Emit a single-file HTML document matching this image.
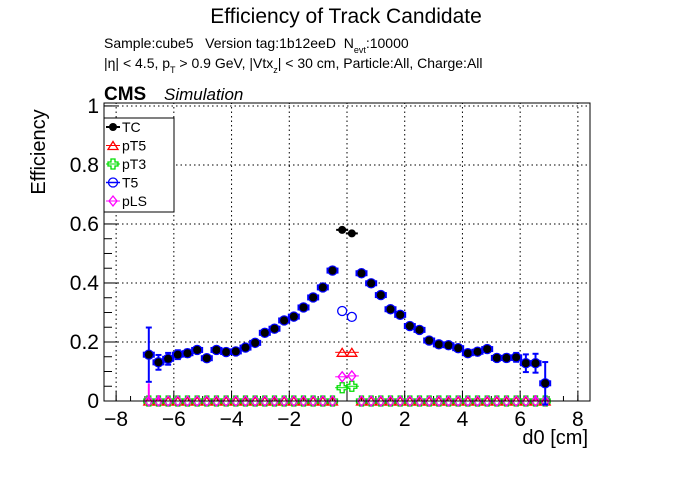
<!DOCTYPE html>
<html><head><meta charset="utf-8"><style>
body{margin:0;background:#fff;width:696px;height:472px;overflow:hidden}
svg text{font-family:"Liberation Sans",sans-serif;white-space:pre}
</style></head><body>
<svg id="chart" width="696" height="472" xmlns="http://www.w3.org/2000/svg">
<text x="346" y="23" font-size="21" text-anchor="middle">Efficiency of Track Candidate</text>
<text x="104" y="48" font-size="14" xml:space="preserve">Sample:cube5   Version tag:1b12eeD  N<tspan font-size="9" dy="5">evt</tspan><tspan dy="-5">:10000</tspan></text>
<text x="104" y="68" font-size="14">|η| &lt; 4.5, p<tspan font-size="9" dy="5">T</tspan><tspan dy="-5"> &gt; 0.9 GeV, |Vtx</tspan><tspan font-size="9" dy="5">z</tspan><tspan dy="-5">| &lt; 30 cm, Particle:All, Charge:All</tspan></text>
<text x="104" y="100" font-size="19" font-weight="bold">CMS</text>
<text x="164" y="100" font-size="17" font-style="italic">Simulation</text>
<text transform="translate(45,152) rotate(-90)" font-size="20" text-anchor="middle">Efficiency</text>
<text x="588" y="444" font-size="20" text-anchor="end">d0 [cm]</text>
<g id="grid"></g><g id="axes"></g><g id="marks"></g>
<rect x="104" y="103" width="486" height="298" fill="none" stroke="#000" stroke-width="1"/>
<g id="legend"></g>
</svg>
<script>
const tcValues=[0.157,0.131,0.143,0.157,0.162,0.173,0.145,0.173,0.166,0.168,0.181,0.197,0.231,0.245,0.273,0.286,0.317,0.351,0.385,0.442,0.580,0.568,0.433,0.399,0.359,0.311,0.292,0.254,0.241,0.205,0.192,0.189,0.179,0.162,0.167,0.176,0.146,0.146,0.148,0.128,0.128,0.060];
const tcErrors=[0.092,0.025,0.02,0.015,0.012,0.008,0.008,0.008,0.008,0.008,0.008,0.008,0.008,0.008,0.008,0.008,0.008,0.008,0.008,0.008,0.008,0.008,0.008,0.008,0.008,0.008,0.008,0.008,0.008,0.008,0.008,0.008,0.008,0.008,0.008,0.008,0.01,0.012,0.015,0.03,0.032,0.072];
const t5Center=[0.305,0.285];
const pT5Center=[0.165,0.165];
const pT3Center=[0.045,0.05];
const pLSCenter=[0.082,0.085];
const pLSErrors=[0.06,0.02,0,0,0,0,0,0,0,0,0,0,0,0,0,0,0,0,0,0,0,0,0,0,0,0,0,0,0,0,0,0,0,0,0,0,0,0,0,0,0.02,0.02];
const xTicks=[-8,-6,-4,-2,0,2,4,6,8];
const yTicks=[0,0.2,0.4,0.6,0.8,1];
const legendLabels=["TC","pT5","pT3","T5","pLS"];
const NS="http://www.w3.org/2000/svg";
const X0=104,X1=590,Y0=401,Y1=103,XMIN=-8.42,XMAX=8.42,YMIN=0,YMAX=1.01;
const sx=v=>X0+(v-XMIN)/(XMAX-XMIN)*(X1-X0);
const sy=v=>Y0-(v-YMIN)/(YMAX-YMIN)*(Y0-Y1);
const nb=tcValues.length;
const centers=tcValues.map((_,i)=>(i-(nb-1)/2)*0.335);
function mk(tag,attrs,parent){const e=document.createElementNS(NS,tag);for(const k in attrs)e.setAttribute(k,attrs[k]);parent.appendChild(e);return e;}
const grid=document.getElementById('grid'),axes=document.getElementById('axes'),marks=document.getElementById('marks'),leg=document.getElementById('legend');
xTicks.forEach(t=>{
 const x=sx(t);
 if(t>-8.4&&t<8.4){const g=mk('line',{x1:x,x2:x,y1:Y0,y2:Y1,stroke:'#000','stroke-dasharray':'1.5,3','stroke-width':1},grid);
 }
 const tk=mk('line',{x1:x,x2:x,y1:Y0,y2:Y0-10,stroke:'#000'},axes);
 
 const lb=mk('text',{x:x,y:Y0+25,'font-size':21,'text-anchor':'middle'},axes);lb.textContent=(t<0?'\u2212':'')+Math.abs(t);
 
});
for(let v=-8;v<=8.01;v+=0.5){const x=sx(v);mk('line',{x1:x,x2:x,y1:Y0,y2:Y0-5,stroke:'#000'},axes);}
yTicks.forEach(t=>{
 const y=sy(t);
 if(t>0){const g=mk('line',{x1:X0,x2:X1,y1:y,y2:y,stroke:'#000','stroke-dasharray':'1.5,3','stroke-width':1},grid);
 }
 const tk=mk('line',{x1:X0,x2:X0+15,y1:y,y2:y,stroke:'#000'},axes);
 
 const lb=mk('text',{x:X0-5,y:y+7,'font-size':21,'text-anchor':'end'},axes);lb.textContent=t===0?'0':(t===1?'1':t.toFixed(1));
 
});
for(let v=0;v<=1.001;v+=0.05){const y=sy(v);mk('line',{x1:X0,x2:X0+8,y1:y,y2:y,stroke:'#000'},axes);}
function tri(x,y,c,p){mk('path',{d:`M${x-5},${y+4}L${x},${y-4}L${x+5},${y+4}Z`,fill:'none',stroke:c,'stroke-width':1.3},p);mk('line',{x1:x-7,x2:x+7,y1:y,y2:y,stroke:c},p);}
function cross(x,y,c,p){mk('path',{d:`M${x-2},${y-5}h4v3h3v4h-3v3h-4v-3h-3v-4h3z`,fill:'none',stroke:c,'stroke-width':1.3},p);mk('line',{x1:x-7,x2:x+7,y1:y,y2:y,stroke:c},p);}
function dia(x,y,c,p){mk('path',{d:`M${x},${y-5}L${x+4},${y}L${x},${y+5}L${x-4},${y}Z`,fill:'none',stroke:c,'stroke-width':1.3},p);mk('line',{x1:x-7,x2:x+7,y1:y,y2:y,stroke:c},p);}
centers.forEach((c,i)=>{
 const x=sx(c),ctr=(i===nb/2-1||i===nb/2),k=i-(nb/2-1);
 const g=mk('g',{},marks);
 tri(x,sy(ctr?pT5Center[k]:0),'#f00',g);
 cross(x,sy(ctr?pT3Center[k]:0),'#0d0',g);
 const yl=sy(ctr?pLSCenter[k]:0);
 if(pLSErrors[i]>0)mk('line',{x1:x,x2:x,y1:yl,y2:sy(pLSErrors[i]),stroke:'#f0f','stroke-width':2},g);
 dia(x,yl,'#f0f',g);
 const yt=sy(tcValues[i]);
 if(ctr){
  const t5=sy(t5Center[k]);mk('circle',{cx:x,cy:t5,r:4.5,fill:'none',stroke:'#00f','stroke-width':1.3},g);
  mk('line',{x1:x-6,x2:x+6,y1:yt,y2:yt,stroke:'#000',"stroke-width":2},g);
  mk('circle',{cx:x,cy:yt,r:4,fill:'#000'},g);
 }else{
  const e1=sy(tcValues[i]+tcErrors[i]),e2=sy(tcValues[i]-tcErrors[i]);
  mk('line',{x1:x,x2:x,y1:e1,y2:e2,stroke:'#00f','stroke-width':2},g);
  mk('line',{x1:x-3,x2:x+3,y1:e1,y2:e1,stroke:'#00f','stroke-width':2},g);
  mk('line',{x1:x-3,x2:x+3,y1:e2,y2:e2,stroke:'#00f','stroke-width':2},g);
  mk('rect',{x:x-6,y:yt-3,width:12,height:6,fill:'#00f'},g);
  mk('circle',{cx:x,cy:yt,r:5.2,fill:'#00f'},g);
  mk('circle',{cx:x,cy:yt,r:4,fill:'#000'},g);
 }
});
mk('rect',{x:104,y:118,width:70,height:94,fill:'#fff',stroke:'#000'},leg);
const lc=['#000','#f00','#0d0','#00f','#f0f'];
legendLabels.forEach((l,i)=>{
 const y=127+i*18.5,x=113;
 const g=mk('g',{},leg);
 if(i===0){mk('line',{x1:x-7,x2:x+7,y1:y,y2:y,stroke:'#000','stroke-width':2},g);mk('circle',{cx:x,cy:y,r:4,fill:'#000'},g);}
 else if(i===1)tri(x,y,lc[i],g);else if(i===2)cross(x,y,lc[i],g);
 else if(i===3){mk('line',{x1:x-7,x2:x+7,y1:y,y2:y,stroke:'#00f','stroke-width':1.5},g);mk('circle',{cx:x,cy:y,r:4.5,fill:'none',stroke:'#00f','stroke-width':1.3},g);}
 else dia(x,y,lc[i],g);
 const t=mk('text',{x:122,y:y+5,'font-size':14},g);t.textContent=l;
});
</script>
</body></html>
